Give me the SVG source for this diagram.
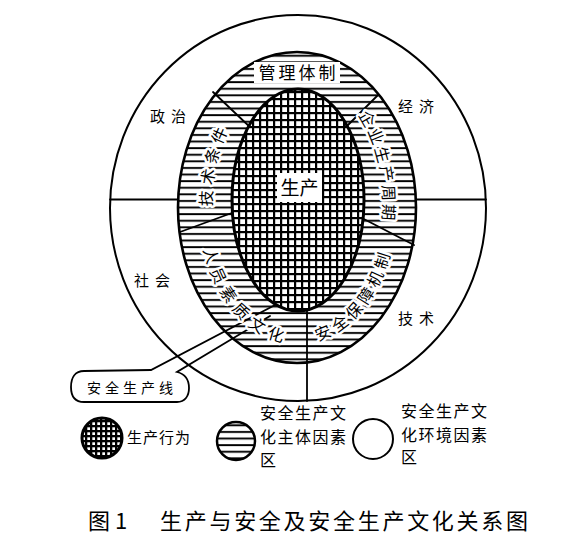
<svg xmlns="http://www.w3.org/2000/svg" width="573" height="545" viewBox="0 0 573 545">
<style>
  .ln{fill:none;stroke:#000;stroke-width:1.8;stroke-linecap:round}
  .t{font-family:"Noto Sans CJK SC","Noto Sans CJK JP",sans-serif;fill:#000}
  .outer{font-size:15px;letter-spacing:6px}
  .band{font-size:16px;dominant-baseline:central;stroke:#fff;stroke-width:5px;stroke-linejoin:round;paint-order:stroke}
  .leg{font-size:16px;letter-spacing:1.5px}
</style>
<defs>
  <pattern id="hatch" patternUnits="userSpaceOnUse" width="8" height="6.6">
    <rect width="8" height="6.6" fill="#fff"/>
    <rect y="2" width="8" height="1.9" fill="#000"/>
  </pattern>
  <pattern id="grid" patternUnits="userSpaceOnUse" width="7" height="7">
    <rect width="7" height="7" fill="#fff"/>
    <rect width="7" height="2.2" fill="#000"/>
    <rect width="2.2" height="7" fill="#000"/>
  </pattern>
  <pattern id="grid2" patternUnits="userSpaceOnUse" width="5" height="5">
    <rect width="5" height="5" fill="#fff"/>
    <rect width="5" height="2.3" fill="#000"/>
    <rect width="2.3" height="5" fill="#000"/>
  </pattern>
  <path id="p-left" d="M 210.58 249.49 A 92.5 133 0 0 1 251.25 88.82"/>
  <path id="p-right" d="M 329.14 79.02 A 92.5 133 0 0 1 377.61 270.5"/>
  <path id="p-lowleft" d="M 207.37 174.08 A 92.5 133 0 0 0 324.55 331.19"/>
  <path id="p-lowright" d="M 265.86 328.98 A 92.5 133 0 0 0 388.59 180.91"/>
</defs>
<rect width="573" height="545" fill="#fff"/>

<g id="environment-ring">
  <ellipse cx="298" cy="208" rx="188" ry="193" fill="#fff" stroke="#000" stroke-width="2"/>
</g>

<g id="subject-band">
  <ellipse cx="297" cy="207.5" rx="119" ry="155.5" fill="url(#hatch)" stroke="#000" stroke-width="2.6"/>
</g>

<g id="connectors">
  <line class="ln" x1="110" y1="199.5" x2="178" y2="199.5"/>
  <line class="ln" x1="416" y1="199.5" x2="486" y2="199.5"/>
  <line class="ln" x1="307" y1="305" x2="307" y2="401"/>
  <line class="ln" x1="213" y1="92" x2="252" y2="129"/>
  <line class="ln" x1="378" y1="95" x2="338" y2="135"/>
  <line class="ln" x1="180" y1="232" x2="240" y2="210"/>
  <line class="ln" x1="414" y1="245" x2="358" y2="216"/>
  <path class="ln" d="M 277 304 L 151 370 L 84 371 C 75 371 71 378 71 387 C 71 396 75 402 84 402 L 177 402 C 185 402 189 396 189 388 C 189 379 185 374 177 372 L 270 316" stroke-width="1.6"/>
</g>

<g id="production-core">
  <ellipse cx="298" cy="200" rx="66" ry="111" fill="url(#grid)" stroke="#000" stroke-width="3"/>
  <rect x="277" y="173" width="45" height="29" fill="#fff"/>
  <text class="t" x="299.5" y="194.5" font-size="19" text-anchor="middle">生产</text>
</g>

<g id="band-labels">
  <rect x="254" y="62" width="86" height="21" fill="#fff"/>
  <text class="t" x="298.5" y="79" font-size="17" letter-spacing="3" text-anchor="middle">管理体制</text>
  <text class="t band" letter-spacing="5.5"><textPath href="#p-left" startOffset="50%" text-anchor="middle">技术条件</textPath></text>
  <text class="t band" letter-spacing="3.5"><textPath href="#p-right" startOffset="50%" text-anchor="middle">企业生产周期</textPath></text>
  <text class="t band" font-size="15" letter-spacing="5"><textPath href="#p-lowleft" startOffset="58%" text-anchor="middle">人员素质文化</textPath></text>
  <text class="t band" font-size="15" letter-spacing="3"><textPath href="#p-lowright" startOffset="46%" text-anchor="middle">安全保障机制</textPath></text>
</g>

<g id="ring-labels">
  <text class="t outer" x="171" y="122" text-anchor="middle">政治</text>
  <text class="t outer" x="419" y="112" text-anchor="middle">经济</text>
  <text class="t outer" x="155" y="286" text-anchor="middle">社会</text>
  <text class="t outer" x="419" y="324" text-anchor="middle">技术</text>
</g>

<g id="safety-line-label">
  <text class="t" x="132" y="393" font-size="14" letter-spacing="4" text-anchor="middle">安全生产线</text>
</g>

<g id="legend-production">
  <circle cx="102" cy="438" r="20" fill="url(#grid2)" stroke="#000" stroke-width="3"/>
  <text class="t" x="127" y="443" font-size="15" letter-spacing="1">生产行为</text>
</g>
<g id="legend-subject">
  <circle cx="236" cy="441" r="19" fill="url(#hatch)" stroke="#000" stroke-width="2.5"/>
  <text class="t leg" x="260" y="419">安全生产文</text>
  <text class="t leg" x="260" y="443">化主体因素</text>
  <text class="t leg" x="260" y="466">区</text>
</g>
<g id="legend-environment">
  <circle cx="373" cy="439" r="20" fill="#fff" stroke="#000" stroke-width="2"/>
  <text class="t leg" x="401" y="417">安全生产文</text>
  <text class="t leg" x="401" y="441">化环境因素</text>
  <text class="t leg" x="401" y="463">区</text>
</g>

<g id="caption">
  <text class="t" x="88" y="529" font-size="22">图 1</text>
  <text class="t" x="160" y="529" font-size="22" textLength="368" lengthAdjust="spacing">生产与安全及安全生产文化关系图</text>
</g>
</svg>
